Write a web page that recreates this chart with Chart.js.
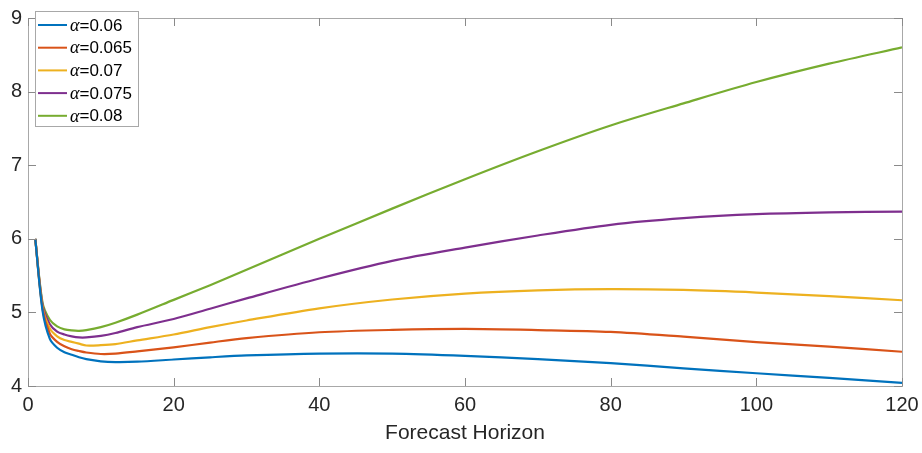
<!DOCTYPE html>
<html>
<head>
<meta charset="utf-8">
<script src="https://cdn.jsdelivr.net/npm/chart.js@4/dist/chart.umd.min.js"></script>
<style>
  html, body { margin: 0; padding: 0; background: #fff; }
  #chart { display: block; }
</style>
</head>
<body>
<canvas id="chart" width="922" height="453"></canvas>
<script>
/* ── Data ── */
const horizon = [1, 2, 3, 4, 5, 6, 7, 8, 10, 12, 15, 20, 25, 30, 40, 50, 60, 70, 80, 90, 100, 110, 120];

const alpha060 = [6.0, 5.02, 4.64, 4.52, 4.46, 4.425, 4.39, 4.365, 4.335, 4.325, 4.33, 4.36, 4.39, 4.415, 4.44, 4.44, 4.41, 4.365, 4.31, 4.24, 4.173, 4.11, 4.042];
const alpha065 = [6.0, 5.05, 4.71, 4.60, 4.54, 4.50, 4.475, 4.455, 4.435, 4.44, 4.47, 4.525, 4.59, 4.65, 4.73, 4.762, 4.775, 4.76, 4.735, 4.67, 4.596, 4.535, 4.465];
const alpha070 = [6.0, 5.07, 4.78, 4.675, 4.625, 4.60, 4.575, 4.55, 4.555, 4.57, 4.62, 4.70, 4.80, 4.89, 5.055, 5.175, 5.256, 5.30, 5.317, 5.305, 5.27, 5.22, 5.165];
const alpha075 = [6.0, 5.10, 4.84, 4.74, 4.70, 4.675, 4.66, 4.66, 4.68, 4.72, 4.80, 4.91, 5.05, 5.19, 5.46, 5.70, 5.88, 6.045, 6.19, 6.28, 6.335, 6.36, 6.37];
const alpha080 = [6.0, 5.13, 4.90, 4.81, 4.77, 4.755, 4.75, 4.76, 4.80, 4.86, 4.97, 5.17, 5.37, 5.58, 6.00, 6.41, 6.81, 7.19, 7.54, 7.84, 8.13, 8.38, 8.60];

const seriesLabels = ['α=0.06', 'α=0.065', 'α=0.07', 'α=0.075', 'α=0.08'];
const seriesValues = [alpha060, alpha065, alpha070, alpha075, alpha080];
const seriesColors = ['#0072BD', '#D95319', '#EDB120', '#7E2F8E', '#77AC30'];

const xTicks = [0, 20, 40, 60, 80, 100, 120];
const yTicks = [4, 5, 6, 7, 8, 9];

const FONT = "'Liberation Sans', Arial, sans-serif";

/* ── Box + inward ticks ── */
const boxAxes = {
  id: 'boxAxes',
  afterDatasetsDraw(chart) {
    const { ctx, chartArea: a, scales } = chart;
    ctx.save();
    ctx.strokeStyle = '#a8a8a8';
    ctx.lineWidth = 1;
    ctx.strokeRect(Math.round(a.left) + 0.5, Math.round(a.top) + 0.5,
                   Math.round(a.right - a.left), Math.round(a.bottom - a.top));
    ctx.strokeStyle = '#8a8a8a';
    ctx.beginPath();
    xTicks.forEach(v => {
      const px = Math.round(scales.x.getPixelForValue(v)) + 0.5;
      ctx.moveTo(px, a.bottom); ctx.lineTo(px, a.bottom - 8);
      ctx.moveTo(px, a.top); ctx.lineTo(px, a.top + 8);
    });
    yTicks.forEach(v => {
      const py = Math.round(scales.y.getPixelForValue(v)) + 0.5;
      ctx.moveTo(a.left, py); ctx.lineTo(a.left + 8, py);
      ctx.moveTo(a.right, py); ctx.lineTo(a.right - 8, py);
    });
    ctx.stroke();
    ctx.restore();
  }
};

/* ── Legend box inside the plot ── */
const boxLegend = {
  id: 'boxLegend',
  afterDraw(chart) {
    const ctx = chart.ctx;
    const x0 = 35.5, y0 = 11.5, w = 103, h = 115;
    ctx.save();
    ctx.fillStyle = '#fff';
    ctx.fillRect(x0, y0, w, h);
    ctx.strokeStyle = '#a8a8a8';
    ctx.lineWidth = 1;
    ctx.strokeRect(x0, y0, w, h);
    chart.data.datasets.forEach((ds, i) => {
      const y = 25 + i * 22.7;
      ctx.strokeStyle = ds.borderColor;
      ctx.lineWidth = 2;
      ctx.beginPath();
      ctx.moveTo(38, y); ctx.lineTo(67, y);
      ctx.stroke();
      ctx.fillStyle = '#000';
      ctx.textBaseline = 'middle';
      ctx.font = "italic 18px 'Liberation Serif', serif";
      const sym = ds.label.charAt(0);
      ctx.fillText(sym, 70, y + 1);
      const sw = ctx.measureText(sym).width;
      ctx.font = "17px 'Liberation Sans', Arial, sans-serif";
      ctx.fillText(ds.label.slice(1), 70 + sw, y + 1);
    });
    ctx.restore();
  }
};

/* ── Chart ── */
new Chart(document.getElementById('chart'), {
  type: 'line',
  data: {
    datasets: seriesValues.map((vals, i) => ({
      label: seriesLabels[i],
      data: horizon.map((h, k) => ({ x: h, y: vals[k] })),
      borderColor: seriesColors[i],
      backgroundColor: seriesColors[i],
      borderWidth: 2.2,
      pointRadius: 0,
      tension: 0.3,
      fill: false
    }))
  },
  options: {
    responsive: false,
    animation: false,
    devicePixelRatio: 1,
    layout: { padding: { top: 4, right: 20, left: 0, bottom: 0 } },
    plugins: { legend: { display: false }, tooltip: { enabled: false } },
    scales: {
      x: {
        type: 'linear', min: 0, max: 120,
        afterBuildTicks: s => { s.ticks = xTicks.map(v => ({ value: v })); },
        afterFit: s => { s.height = 67; s.paddingLeft = 0; s.paddingRight = 0; },
        grid: { display: false, drawTicks: false },
        border: { display: false },
        ticks: { font: { family: FONT, size: 20 }, color: '#262626', padding: 7, maxRotation: 0 },
        title: { display: true, text: 'Forecast Horizon', font: { family: FONT, size: 21 }, color: '#262626', padding: { top: 4, bottom: 7 } }
      },
      y: {
        min: 4, max: 9,
        afterBuildTicks: s => { s.ticks = yTicks.map(v => ({ value: v })); },
        afterFit: s => { s.width = 28; },
        grid: { display: false, drawTicks: false },
        border: { display: false },
        ticks: { font: { family: FONT, size: 20 }, color: '#262626', padding: 6 }
      }
    }
  },
  plugins: [boxAxes, boxLegend]
});
</script>
</body>
</html>
